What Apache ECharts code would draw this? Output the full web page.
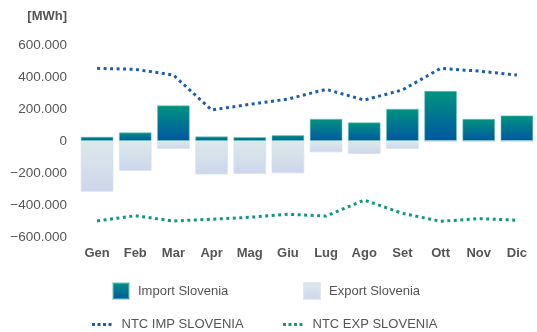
<!DOCTYPE html>
<html>
<head>
<meta charset="utf-8">
<script src="https://cdn.jsdelivr.net/npm/echarts@6/dist/echarts.min.js"></script>
<style>
  html, body { margin: 0; padding: 0; background: #fff; }
  #chart { width: 537px; height: 332px; }
</style>
</head>
<body>
<div id="chart"></div>
<script>
// Monthly cross-border energy exchange for Slovenia (MWh)
const months = ['Gen', 'Feb', 'Mar', 'Apr', 'Mag', 'Giu', 'Lug', 'Ago', 'Set', 'Ott', 'Nov', 'Dic'];
const importSlovenia = [27000, 54000, 223000, 29000, 25000, 37000, 139000, 117000, 202000, 314000, 139000, 160000];
const exportSlovenia = [-317000, -187000, -50000, -210000, -206000, -202000, -71000, -81000, -50000, -4000, -5000, -4000];
const ntcImp = [454000, 448000, 412000, 194000, 229000, 262000, 323000, 256000, 319000, 454000, 437000, 412000];
const ntcExp = [-500000, -467000, -500000, -489000, -477000, -458000, -469000, -369000, -452000, -502000, -485000, -495000];

const fmt = v => {
  if (v === 0) return '0';
  const s = Math.abs(v).toString().replace(/\B(?=(\d{3})+(?!\d))/g, '.');
  return (v < 0 ? '\u2212' : '') + s;
};

const importColor = new echarts.graphic.LinearGradient(0, 0, 0, 1, [
  { offset: 0, color: '#00947f' },
  { offset: 1, color: '#0056a2' }
]);
const exportColor = new echarts.graphic.LinearGradient(0, 0, 0, 1, [
  { offset: 0, color: '#dce9ea' },
  { offset: 1, color: '#cdd6ec' }
]);
const impLine = '#1c5fa9';
const expLine = '#129781';
const fontFamily = 'Liberation Sans, Arial, sans-serif';

// dotted legend marker for the NTC lines
const dotsIcon = 'path://M0,0h3v3h-3z M5.5,0h3v3h-3z M11,0h3v3h-3z M16.5,0h3v3h-3z';

const legendText = { color: '#555', fontSize: 13, fontFamily: fontFamily };

const chart = echarts.init(document.getElementById('chart'), null, { renderer: 'canvas' });
chart.setOption({
  animation: false,
  grid: { left: 78, right: 1, top: 45, bottom: 95, containLabel: false },
  xAxis: {
    type: 'category',
    data: months,
    axisLine: { show: false },
    axisTick: { show: false },
    axisLabel: { color: '#555', fontSize: 13, fontWeight: 'bold', fontFamily: fontFamily, margin: 10 }
  },
  yAxis: {
    type: 'value',
    min: -600000,
    max: 600000,
    interval: 200000,
    name: '[MWh]',
    nameLocation: 'end',
    nameGap: 22,
    nameTextStyle: { color: '#555', fontSize: 13, fontWeight: 'bold', fontFamily: fontFamily, align: 'right', padding: [0, 11, 0, 0] },
    splitLine: { show: false },
    axisLine: { show: false },
    axisTick: { show: false },
    axisLabel: { color: '#555', fontSize: 13.5, fontFamily: fontFamily, margin: 11, formatter: fmt }
  },
  legend: [
    { data: [{ name: 'Import Slovenia', icon: 'rect' }], left: 112, top: 282, padding: 0, itemWidth: 16, itemHeight: 16, textStyle: Object.assign({ padding: [5, 0, 0, 4] }, legendText) },
    { data: [{ name: 'Export Slovenia', icon: 'rect' }], left: 303, top: 282, padding: 0, itemWidth: 16, itemHeight: 16, textStyle: Object.assign({ padding: [5, 0, 0, 4] }, legendText) },
    { data: [{ name: 'NTC IMP SLOVENIA', icon: dotsIcon }], left: 92, top: 318, padding: 0, itemWidth: 19.5, itemHeight: 3, textStyle: Object.assign({ padding: [2, 0, 0, 5] }, legendText) },
    { data: [{ name: 'NTC EXP SLOVENIA', icon: dotsIcon }], left: 283, top: 318, padding: 0, itemWidth: 19.5, itemHeight: 3, textStyle: Object.assign({ padding: [2, 0, 0, 5] }, legendText) }
  ],
  series: [
    {
      name: 'Import Slovenia',
      type: 'bar',
      data: importSlovenia,
      barWidth: '86%',
      barGap: '-100%',
      itemStyle: { color: importColor, borderColor: 'rgba(110,200,190,0.55)', borderWidth: 1 }
    },
    {
      name: 'Export Slovenia',
      type: 'bar',
      data: exportSlovenia,
      barWidth: '86%',
      barGap: '-100%',
      itemStyle: { color: exportColor, borderColor: 'rgba(215,225,240,0.7)', borderWidth: 1 }
    },
    {
      name: 'NTC IMP SLOVENIA',
      type: 'line',
      data: ntcImp,
      symbol: 'none',
      itemStyle: { color: impLine },
      lineStyle: { color: impLine, width: 3, type: [3, 3.5] }
    },
    {
      name: 'NTC EXP SLOVENIA',
      type: 'line',
      data: ntcExp,
      symbol: 'none',
      itemStyle: { color: expLine },
      lineStyle: { color: expLine, width: 3, type: [3, 3.5] }
    }
  ]
});
</script>
</body>
</html>
